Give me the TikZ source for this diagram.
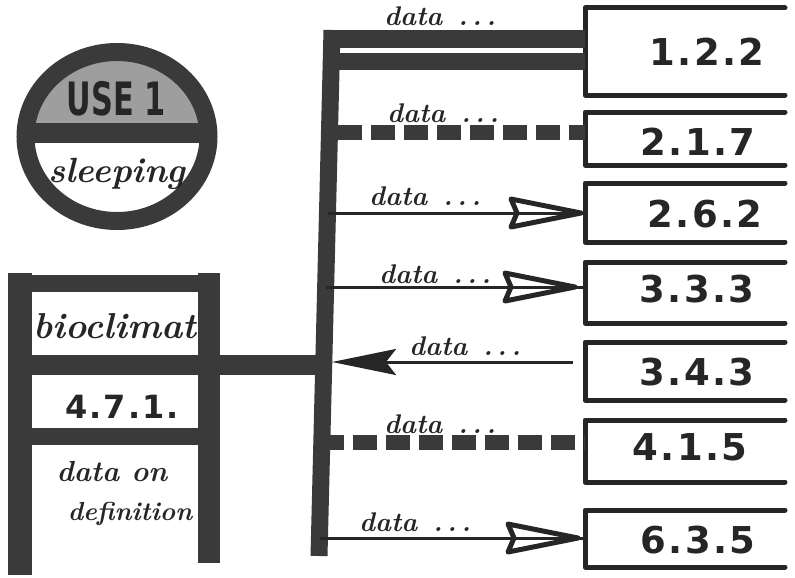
\documentclass[tikz,border=0pt]{standalone}
\usepackage{fontspec}
\newfontfamily\numfont[LetterSpace=6]{DejaVu Sans}
\newfontfamily\capfont{DejaVu Sans}
\usetikzlibrary{arrows.meta,shapes.geometric}
\definecolor{ink}{HTML}{262626}
\definecolor{marker}{HTML}{3A3A3A}
\definecolor{badgegray}{HTML}{9E9E9E}

\begin{document}
\begin{tikzpicture}[x=1pt,y=-1pt,
  bar/.style={draw=marker,line width=#1,line cap=butt},
  dashbar/.style={draw=marker,line width=15pt,line cap=butt,dash pattern=on 24pt off 9pt},
  wire/.style={draw=ink,line width=3pt},
  boxline/.style={draw=ink,line width=5pt,line cap=round,line join=round},
  slot/.style={minimum width=200pt,inner sep=0pt,outer sep=0pt},
  numlbl/.style={font=\numfont\bfseries\fontsize{37}{40}\selectfont,text=ink},
  hand/.style={font=\bfseries\itshape\fontsize{27}{29}\selectfont,text=ink},
  filltip/.style={-{Stealth[length=64pt,width=26pt,inset=10pt]}},
  opendart/.pic={\draw[ink,line width=5pt,line join=round]
     (0,0) -- (-70,-14) -- (-64,0) -- (-70,14) -- cycle;}
]
\useasboundingbox (0,0) rectangle (795,578);

% ---------- status badge ----------
\begin{scope}
  \clip (117,136.5) ellipse (91.5 and 84.5);
  \fill[badgegray] (20,40) rectangle (215,133);
  \draw[bar=20pt] (20,133) -- (215,133);
\end{scope}
\node[ellipse,draw=marker,line width=18pt,minimum width=183pt,minimum height=169pt,inner sep=0pt] (badge) at (117,136.5) {};
\node[font=\capfont\bfseries\fontsize{46}{48}\selectfont,text=ink] (use) at (116,99) {\scalebox{0.66}[1]{USE 1}};
\node[font=\itshape\bfseries\fontsize{35}{37}\selectfont,text=ink] (sleep) at (117,174) {sleeping};

% ---------- entity frame on the left ----------
\draw[bar=24pt] (20,273) -- (20,575);
\draw[bar=22pt] (209,273) -- (209,563);
\draw[bar=17pt] (10,283) -- (220,283);
\draw[bar=17pt] (25,436) -- (207,436);
\node[font=\itshape\bfseries\fontsize{36}{38}\selectfont,text=ink] (bio) at (115,326) {bioclimat};
\node[font=\numfont\bfseries\fontsize{32}{34}\selectfont,text=ink] (code) at (122,407) {4.7.1.};
\node[font=\bfseries\itshape\fontsize{29}{31}\selectfont,text=ink] (def1) at (112,472) {data on};
\node[font=\bfseries\itshape\fontsize{26}{28}\selectfont,text=ink] (def2) at (130,514) {definition};

% ---------- bus ----------
\coordinate (bustop) at (332,30);
\coordinate (busbot) at (319,556);
\draw[bar=17pt] (bustop) -- (busbot);

% link from the entity to the bus
\coordinate (lb) at (20,365);
\coordinate (bj) at (325,365);
\draw[bar=20pt] (lb) -- (bj);

% ---------- target boxes ----------
\node[slot,minimum height=87pt] (n1) at (685,51.5) {};
\node[slot,minimum height=53pt] (n2) at (685,138.5) {};
\node[slot,minimum height=59pt] (n3) at (685,212.5) {};
\node[slot,minimum height=61pt] (n4) at (685,292.5) {};
\node[slot,minimum height=58pt] (n5) at (685,371) {};
\node[slot,minimum height=62pt] (n6) at (685,451) {};
\node[slot,minimum height=57pt] (n7) at (685,538.5) {};
\foreach \n in {n1,n2,n3,n4,n5,n6,n7}
  \draw[boxline] (\n.north east) -- (\n.north west) -- (\n.south west) -- (\n.south east);

\node[numlbl] (t1) at (707,52) {1.2.2};
\node[numlbl] (t2) at (698,142) {2.1.7};
\node[numlbl] (t3) at (705,214) {2.6.2};
\node[numlbl] (t4) at (697,289) {3.3.3};
\node[numlbl] (t5) at (697,372) {3.4.3};
\node[numlbl] (t6) at (690,447) {4.1.5};
\node[numlbl] (t7) at (698,540) {6.3.5};

% ---------- connectors ----------
\coordinate (b1) at (324,39);
\coordinate (b1b) at (334,62);
\coordinate (b2) at (338,132);
\coordinate (b3) at (328,213);
\coordinate (b4) at (326,287);
\coordinate (b5) at (332,362);
\coordinate (b6) at (320,442);
\coordinate (b7) at (320,538);

% arrow ends in front of the boxes
\coordinate (e3) at ([xshift=-4pt]b3 -| n3.west);
\coordinate (e4) at ([xshift=-10pt]b4 -| n4.west);
\coordinate (e7) at ([xshift=-7pt]b7 -| n7.west);

\draw[bar=18pt] (b1) -- (b1 -| n1.west);
\draw[bar=17pt] (b1b) -- (b1b -| n1.west);
\draw[dashbar] (b2) -- (b2 -| n2.west);
\draw[wire] (b3) -- (b3 -| n3.west);
\pic at (e3) {opendart};
\draw[wire] (b4) -- (b4 -| n4.west);
\pic at (e4) {opendart};
\draw[wire,filltip] ([xshift=-12pt]b5 -| n5.west) -- (b5);
\draw[dashbar] (b6) -- (b6 -| n6.west);
\draw[wire] (b7) -- (b7 -| n7.west);
\pic at (e7) {opendart};

% ---------- connector labels ----------
\node[hand] (l1) at (440,16) {data \,.\,.\,.};
\node[hand] (l2) at (443,113) {data \,.\,.\,.};
\node[hand] (l3) at (425,196) {data \,.\,.\,.};
\node[hand] (l4) at (435,274) {data \,.\,.\,.};
\node[hand] (l5) at (465,346) {data \,.\,.\,.};
\node[hand] (l6) at (440,424) {data \,.\,.\,.};
\node[hand] (l7) at (415,522) {data \,.\,.\,.};
\end{tikzpicture}
\end{document}
